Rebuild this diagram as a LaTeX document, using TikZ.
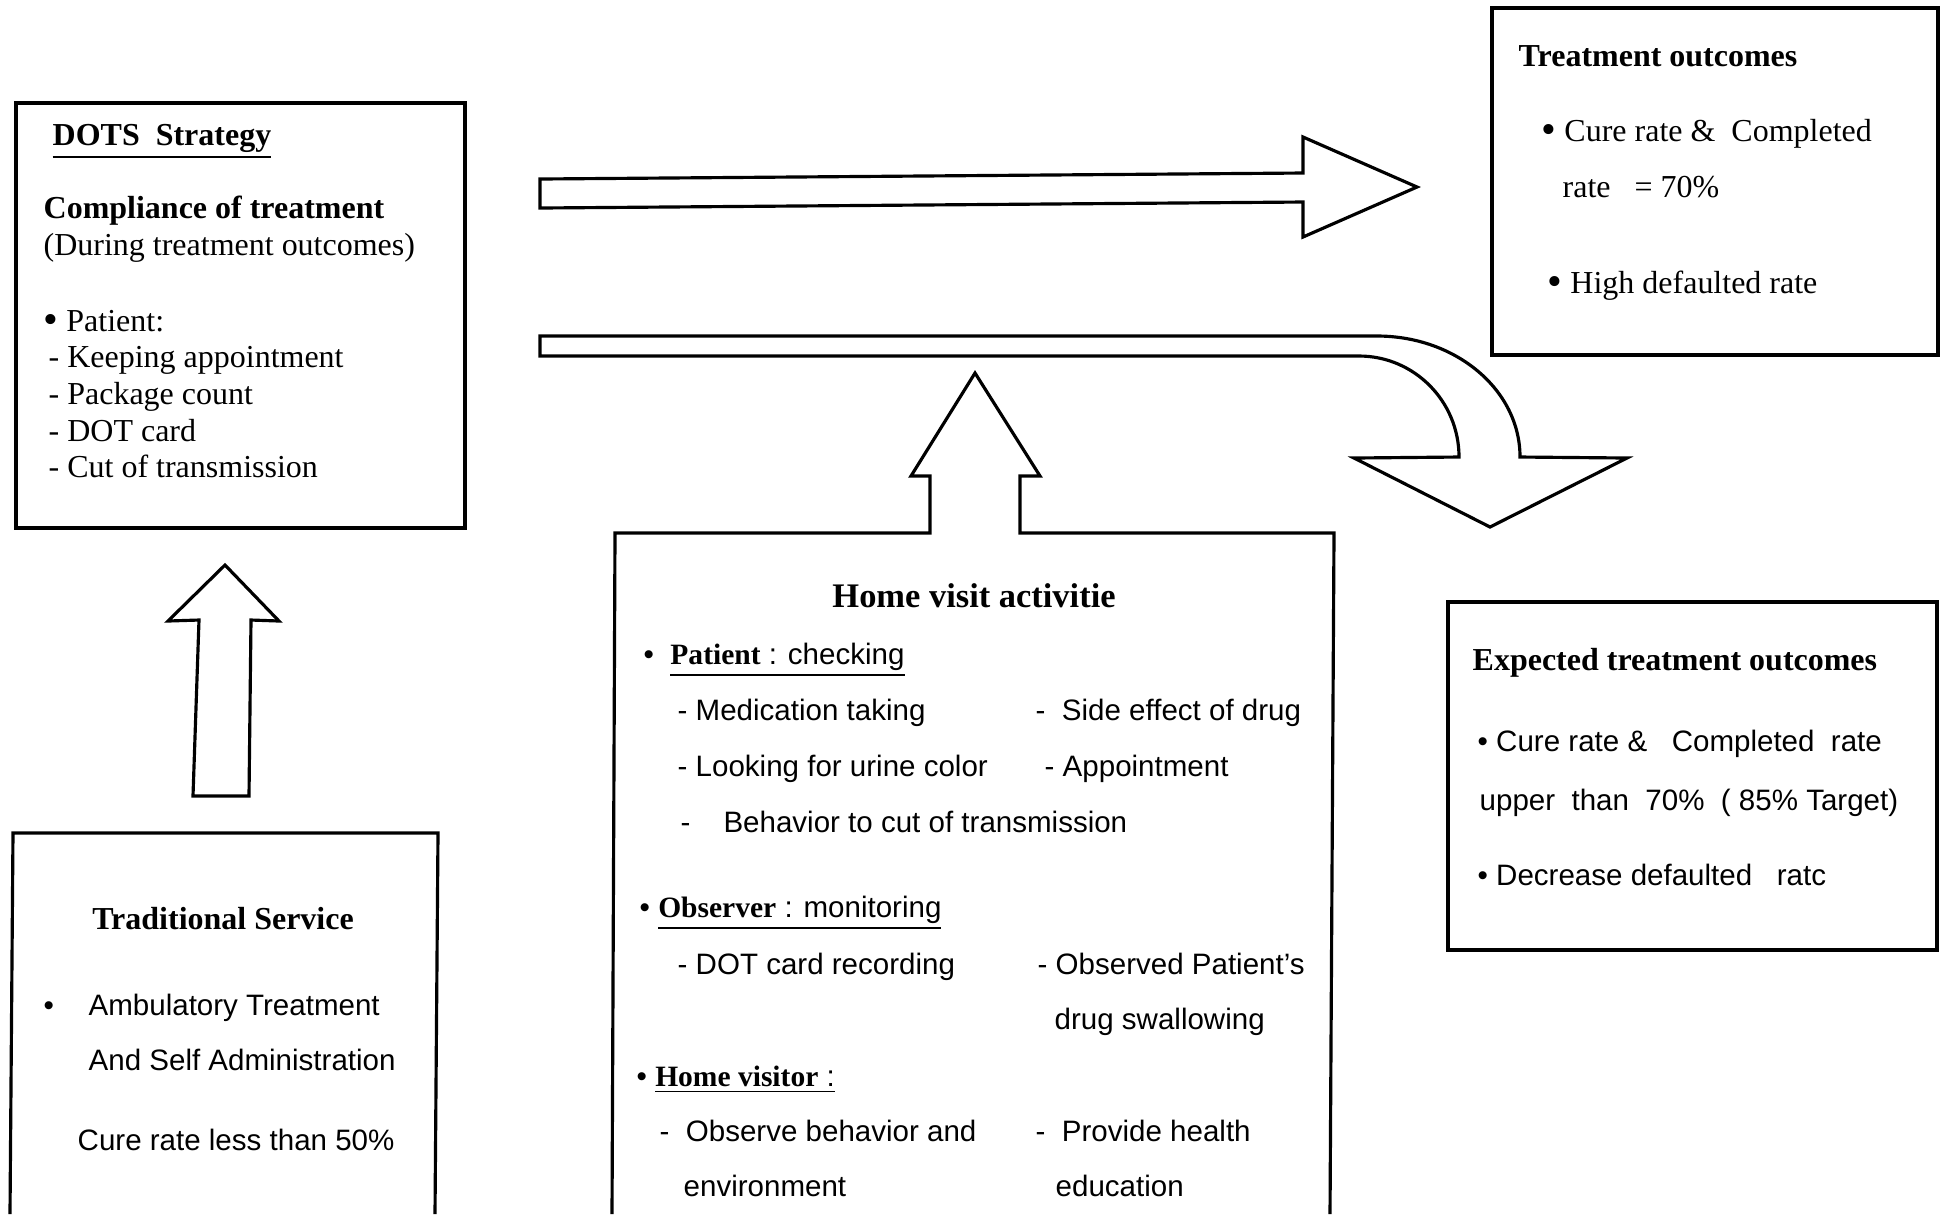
\documentclass[tikz,border=0pt]{standalone}
\usepackage{fontspec}
\setmainfont{Liberation Serif}
\setsansfont{Liberation Sans}

\newcommand{\rmtext}{\fontsize{9.1}{11}\selectfont\rmfamily}
\newcommand{\sftext}{\fontsize{8.4}{10}\selectfont\sffamily}
\newcommand{\bigdot}{\raisebox{-0.2ex}{\large\textbullet}}

\tikzset{
  panel/.style={draw,line width=0.9pt},
  blockarrow/.style={draw,line width=0.9pt,line join=miter,fill=white},
  txt/.style={anchor=base west,inner sep=0pt,font=\rmtext},
  stxt/.style={anchor=base west,inner sep=0pt,font=\sftext},
  hd/.style={anchor=base,inner sep=0pt,font=\rmtext\bfseries},
}

\begin{document}
\begin{tikzpicture}
  \useasboundingbox (0,0) rectangle (19.41,-12.14);

  % boxes
  \draw[panel] (0.16,-1.03) rectangle (4.65,-5.28);
  \draw[panel] (14.92,-0.08) rectangle (19.38,-3.55);
  \draw[panel] (14.48,-6.02) rectangle (19.37,-9.50);
  \draw[panel] (0.10,-12.14) -- (0.13,-8.33) -- (4.38,-8.33) -- (4.35,-12.14);

  % block arrows
  \draw[blockarrow] (5.40,-1.79) -- (13.03,-1.73) -- (13.03,-1.37) -- (14.17,-1.87)
    -- (13.03,-2.37) -- (13.03,-2.02) -- (5.40,-2.08) -- cycle;
  \draw[blockarrow] (5.40,-3.36) -- (13.77,-3.36)
    .. controls (14.56,-3.36) and (15.20,-3.90) .. (15.20,-4.57)
    -- (16.27,-4.58) -- (14.90,-5.27) -- (13.54,-4.58) -- (14.59,-4.57)
    .. controls (14.59,-4.01) and (14.14,-3.56) .. (13.59,-3.56)
    -- (5.40,-3.56) -- cycle;
  \draw[blockarrow] (1.93,-7.96) -- (1.99,-6.20) -- (1.68,-6.21) -- (2.25,-5.65)
    -- (2.79,-6.21) -- (2.51,-6.20) -- (2.49,-7.96) -- cycle;
  \draw[panel,line join=miter] (6.12,-12.14) -- (6.15,-5.33) -- (9.30,-5.33) -- (9.30,-4.76)
    -- (9.11,-4.76) -- (9.75,-3.73) -- (10.40,-4.76) -- (10.20,-4.76) -- (10.20,-5.33)
    -- (13.34,-5.33) -- (13.30,-12.14);

  % DOTS strategy
  \node[txt,font=\rmtext\bfseries] (dots-title) at (0.52,-1.45) {\underline{DOTS\ \ Strategy}};
  \node[txt,font=\rmtext\bfseries] (dots-comp) at (0.43,-2.18) {Compliance of treatment};
  \node[txt] (dots-during) at (0.43,-2.55) {(During treatment outcomes)};
  \node[txt] (dots-patient) at (0.43,-3.31) {\bigdot\ Patient:};
  \node[txt] (dots-keep) at (0.48,-3.67) {- Keeping appointment};
  \node[txt] (dots-pack) at (0.48,-4.04) {- Package count};
  \node[txt] (dots-card) at (0.48,-4.41) {- DOT card};
  \node[txt] (dots-cut) at (0.48,-4.77) {- Cut of transmission};

  % treatment outcomes
  \node[txt,font=\rmtext\bfseries] (out-title) at (15.18,-0.66) {Treatment outcomes};
  \node[txt] (out-cure) at (15.41,-1.41) {\bigdot\ Cure rate \&\ \ Completed};
  \node[txt] (out-rate) at (15.62,-1.97) {rate\ \ \ = 70\%};
  \node[txt] (out-high) at (15.47,-2.93) {\bigdot\ High defaulted rate};

  % expected treatment outcomes
  \node[txt,font=\rmtext\bfseries] (exp-title) at (14.72,-6.70) {Expected treatment outcomes};
  \node[stxt] (exp-cure) at (14.77,-7.51) {\textbullet\ Cure rate \&\ \ \ Completed\ \ rate};
  \node[stxt] (exp-upper) at (14.79,-8.10) {upper\ \ than\ \ 70\%\ \ ( 85\% Target)};
  \node[stxt] (exp-dec) at (14.77,-8.85) {\textbullet\ Decrease defaulted\ \ \ ratc};

  % traditional service
  \node[hd] (ts-title) at (2.23,-9.29) {Traditional Service};
  \node[stxt] (ts-bullet) at (0.43,-10.15) {\textbullet};
  \node[stxt] (ts-amb) at (0.88,-10.15) {Ambulatory Treatment};
  \node[stxt] (ts-self) at (0.88,-10.70) {And Self Administration};
  \node[stxt] (ts-cure) at (0.77,-11.50) {Cure rate less than 50\%};

  % home visit activities
  \node[hd,font=\fontsize{9.8}{12}\selectfont\rmfamily\bfseries] (hv-title) at (9.74,-6.07) {Home visit activitie};
  \node[stxt] (hv-patient) at (6.43,-6.64) {\textbullet\ \ \underline{\textbf{\rmfamily Patient} : checking}};
  \node[stxt] (hv-med) at (6.77,-7.20) {- Medication taking};
  \node[stxt] (hv-side) at (10.35,-7.20) {-\ \ Side effect of drug};
  \node[stxt] (hv-urine) at (6.77,-7.76) {- Looking for urine color};
  \node[stxt] (hv-app) at (10.44,-7.76) {- Appointment};
  \node[stxt] (hv-behav) at (6.80,-8.32) {-\hspace{0.33cm}Behavior to cut of transmission};
  \node[stxt] (hv-observer) at (6.39,-9.17) {\textbullet\ \underline{\textbf{\rmfamily Observer} : monitoring}};
  \node[stxt] (hv-record) at (6.77,-9.74) {- DOT card recording};
  \node[stxt] (hv-swallow) at (10.37,-9.74) {- Observed Patient’s};
  \node[stxt] (hv-drug) at (10.54,-10.29) {drug swallowing};
  \node[stxt] (hv-visitor) at (6.36,-10.86) {\textbullet\ \underline{\textbf{\rmfamily Home visitor} :}};
  \node[stxt] (hv-obs) at (6.59,-11.41) {-\ \ Observe behavior and};
  \node[stxt] (hv-health) at (10.35,-11.41) {-\ \ Provide health};
  \node[stxt] (hv-env) at (6.83,-11.96) {environment};
  \node[stxt] (hv-edu) at (10.55,-11.96) {education};
\end{tikzpicture}
\end{document}
